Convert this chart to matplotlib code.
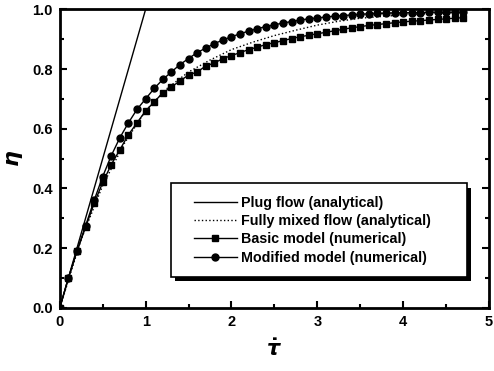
import numpy as np
import matplotlib.pyplot as plt
from matplotlib.ticker import MultipleLocator, FormatStrFormatter
from matplotlib.patches import Rectangle

plt.rcParams['font.family'] = ['Liberation Sans', 'DejaVu Sans']
plt.rcParams['font.weight'] = 'bold'

# numerical results, tau* = 0, 0.1, ..., 4.7
tau = np.round(np.arange(0, 4.75, 0.1), 2)
eta_basic = [0.0, 0.10, 0.19, 0.27, 0.35, 0.42, 0.48, 0.53, 0.58, 0.62,
             0.66, 0.69, 0.72, 0.74, 0.76, 0.78, 0.79, 0.81, 0.82, 0.835,
             0.845, 0.855, 0.865, 0.873, 0.882, 0.888, 0.895, 0.902, 0.908, 0.913,
             0.918, 0.923, 0.928, 0.933, 0.938, 0.942, 0.946, 0.949, 0.952, 0.955,
             0.958, 0.96, 0.962, 0.964, 0.966, 0.968, 0.97, 0.972]
eta_modified = [0.0, 0.10, 0.19, 0.275, 0.36, 0.44, 0.51, 0.57, 0.62, 0.665,
                0.70, 0.735, 0.765, 0.79, 0.815, 0.835, 0.855, 0.87, 0.885, 0.897,
                0.908, 0.918, 0.927, 0.935, 0.942, 0.948, 0.954, 0.959, 0.964, 0.968,
                0.971, 0.974, 0.977, 0.979, 0.981, 0.983, 0.985, 0.986, 0.987, 0.988,
                0.988, 0.989, 0.989, 0.99, 0.99, 0.99, 0.99, 0.99]

# analytical curves
tau_plug = [0.0, 1.0]
eta_plug = [0.0, 1.0]
tau_mixed = [0.0, 0.25, 0.5, 0.75, 1.0, 1.25, 1.5, 1.75, 2.0, 2.25, 2.5,
             2.75, 3.0, 3.25, 3.5, 3.75, 4.0, 4.25, 4.5, 4.7]
eta_mixed = [0.0, 0.23, 0.41, 0.55, 0.66, 0.735, 0.79, 0.83, 0.865, 0.89, 0.912,
             0.93, 0.947, 0.96, 0.97, 0.976, 0.981, 0.985, 0.988, 0.99]

fig = plt.figure(figsize=(4.94, 3.71), dpi=100)
ax = fig.add_axes([0.121, 0.17, 0.869, 0.805])

ax.plot(tau_plug, eta_plug, '-', color='black', lw=1.0, label='Plug flow (analytical)')
ax.plot(tau_mixed, eta_mixed, ':', color='black', lw=1.0, label='Fully mixed flow (analytical)')
ax.plot(tau, eta_basic, '-s', color='black', lw=1.0, ms=4.3, label='Basic model (numerical)')
ax.plot(tau, eta_modified, '-o', color='black', lw=1.0, ms=5, label='Modified model (numerical)')

ax.set_xlim(0, 5)
ax.set_ylim(0, 1.0)
ax.xaxis.set_major_locator(MultipleLocator(1))
ax.xaxis.set_minor_locator(MultipleLocator(0.5))
ax.yaxis.set_major_locator(MultipleLocator(0.2))
ax.yaxis.set_minor_locator(MultipleLocator(0.1))
ax.yaxis.set_major_formatter(FormatStrFormatter('%.1f'))
ax.xaxis.set_major_formatter(FormatStrFormatter('%d'))
ax.tick_params(which='both', direction='in', right=True, labelsize=10.5, width=1.5)
ax.tick_params(which='major', length=5, pad=5)
ax.tick_params(which='minor', length=3)
for s in ax.spines.values():
    s.set_linewidth(2)

ax.set_xlabel(r'$\dot{\tau}$', fontsize=15, labelpad=7)
ax.set_ylabel(r'$\eta$', fontsize=16, labelpad=5)

# legend box with a solid drop shadow
bx, by, bw, bh = 0.259, 0.104, 0.69, 0.313
ax.add_patch(Rectangle((bx + 0.01, by - 0.014), bw, bh, transform=ax.transAxes,
                       facecolor='black', edgecolor='none', zorder=4))
ax.add_patch(Rectangle((bx, by), bw, bh, transform=ax.transAxes,
                       facecolor='white', edgecolor='black', lw=1.2, zorder=5))
leg = ax.legend(loc='center left', bbox_to_anchor=(0.312, 0.26), fontsize=10.3,
                frameon=False, handlelength=3.0, borderpad=0, borderaxespad=0,
                labelspacing=0.3, handletextpad=0.3)
leg.set_zorder(6)

fig.savefig('out.png', dpi=100)
